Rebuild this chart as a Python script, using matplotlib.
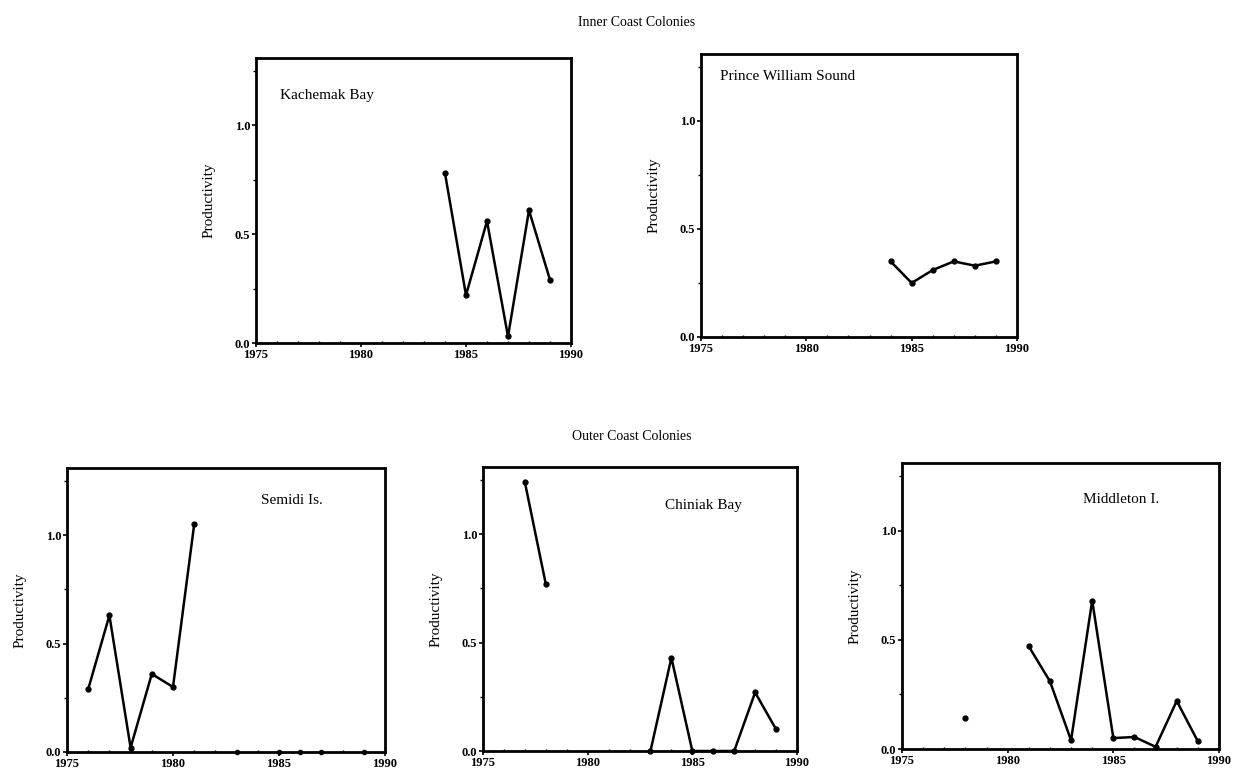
import matplotlib
matplotlib.use("Agg")
import matplotlib.pyplot as plt
import numpy as np
from matplotlib.ticker import MultipleLocator

# ---- data ----
kach_years = [1984, 1985, 1986, 1987, 1988, 1989]
kach_vals = [0.78, 0.22, 0.56, 0.03, 0.61, 0.29]

pws_years = [1984, 1985, 1986, 1987, 1988, 1989]
pws_vals = [0.35, 0.25, 0.31, 0.35, 0.33, 0.35]

semidi_years = [1976, 1977, 1978, 1979, 1980, 1981]
semidi_vals = [0.29, 0.63, 0.02, 0.36, 0.30, 1.05]
semidi_zero_years = [1983, 1985, 1986, 1987, 1989]
semidi_zero_vals = [0.0, 0.0, 0.0, 0.0, 0.0]

chiniak_years_a = [1977, 1978]
chiniak_vals_a = [1.24, 0.77]
chiniak_years_b = [1983, 1984, 1985, 1986, 1987, 1988, 1989]
chiniak_vals_b = [0.0, 0.43, 0.0, 0.0, 0.0, 0.27, 0.10]

midd_years_a = [1978]
midd_vals_a = [0.14]
midd_years_b = [1981, 1982, 1983, 1984, 1985, 1986, 1987, 1988, 1989]
midd_vals_b = [0.47, 0.31, 0.04, 0.68, 0.05, 0.055, 0.01, 0.22, 0.035]

x_ticks = [1975, 1980, 1985, 1990]
y_ticks = [0.0, 0.5, 1.0]
y_ticklabels = ["0.0", "0.5", "1.0"]

W, H = 1235, 777
fig = plt.figure(figsize=(W / 100, H / 100), dpi=100)
plt.rcParams['font.family'] = ['Liberation Serif', 'DejaVu Serif']

def make_ax(l, r, t, b):
    return fig.add_axes([l / W, (H - b) / H, (r - l) / W, (b - t) / H])

def style(ax, name, tx, ty):
    ax.set_xlim(1975, 1990)
    ax.set_ylim(0, 1.31)
    ax.set_xticks(x_ticks)
    ax.set_xticklabels([str(v) for v in x_ticks], fontsize=9, fontweight='bold')
    ax.set_yticks(y_ticks)
    ax.set_yticklabels(y_ticklabels, fontsize=9, fontweight='bold')
    ax.yaxis.set_minor_locator(MultipleLocator(0.25))
    ax.xaxis.set_minor_locator(MultipleLocator(1))
    ax.tick_params(axis='both', which='major', direction='out', length=3, width=1.2, pad=1)
    ax.tick_params(axis='y', which='minor', direction='out', length=2, width=1)
    ax.tick_params(axis='x', which='minor', direction='in', length=1.5, width=1)
    for s in ax.spines.values():
        s.set_linewidth(2.0)
    ax.set_ylabel("Productivity", fontsize=11, labelpad=14)
    ax.text(tx, ty, name, transform=ax.transAxes, fontsize=11, va='center', ha='left')

line_kw = dict(color='black', linewidth=1.8, marker='o', markersize=3.5)

ax1 = make_ax(256, 571, 58, 343)
ax1.plot(kach_years, kach_vals, **line_kw)
style(ax1, "Kachemak Bay", 0.076, 0.87)

ax2 = make_ax(701, 1017, 54, 337)
ax2.plot(pws_years, pws_vals, **line_kw)
style(ax2, "Prince William Sound", 0.06, 0.92)

ax3 = make_ax(67, 385, 468, 752)
ax3.plot(semidi_years, semidi_vals, **line_kw)
ax3.plot(semidi_zero_years, semidi_zero_vals, linestyle='none', color='black',
         marker='o', markersize=3, clip_on=False)
style(ax3, "Semidi Is.", 0.61, 0.887)

ax4 = make_ax(483, 797, 467, 751)
ax4.plot(chiniak_years_a, chiniak_vals_a, **line_kw)
ax4.plot(chiniak_years_b, chiniak_vals_b, clip_on=False, **line_kw)
style(ax4, "Chiniak Bay", 0.58, 0.866)

ax5 = make_ax(902, 1219, 463, 749)
ax5.plot(midd_years_a, midd_vals_a, **line_kw)
ax5.plot(midd_years_b, midd_vals_b, clip_on=False, **line_kw)
style(ax5, "Middleton I.", 0.57, 0.874)

fig.text(637 / W, 1 - 22 / H, "Inner Coast Colonies", ha='center', va='center', fontsize=10)
fig.text(632 / W, 1 - 436 / H, "Outer Coast Colonies", ha='center', va='center', fontsize=10)

fig.savefig("out.png", dpi=100, facecolor='white')
